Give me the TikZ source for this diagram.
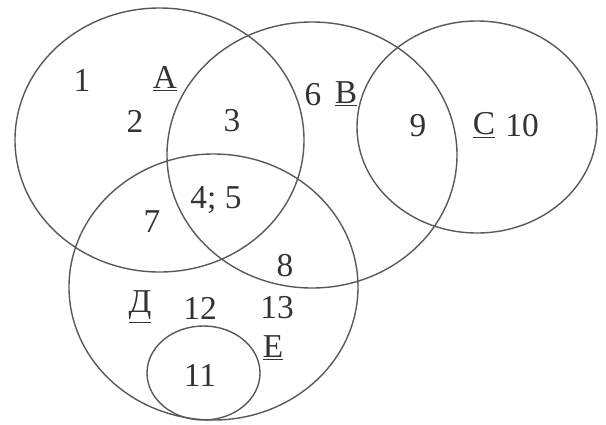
\documentclass[tikz,border=0pt]{standalone}
\usepackage{fontspec}
\setmainfont{Liberation Serif}
\begin{document}
\begin{tikzpicture}[x=0.02cm,y=-0.02cm,line join=round,line cap=round,font=\fontsize{19}{21}\selectfont]
	\tikzset{every node/.style={text=black!80,inner sep=0pt},
		set/.style={draw=black!65,line width=0.8pt}}
	\useasboundingbox (0,0) rectangle (606,424);
	\draw[set] (159.5,140) ellipse (144.5 and 132);
	\draw[set] (312,155) ellipse (145 and 133);
	\draw[set] (477,127) ellipse (120 and 106);
	\draw[set] (213.5,287) ellipse (144.5 and 133);
	\draw[set] (203.5,373) ellipse (56.5 and 47);
	\node (n1) at (82,80) {1};
	\node (setA) at (165,79) {\underline{А}};
	\node (n2) at (135,121) {2};
	\node (n3) at (232,121) {3};
	\node (n45) at (216,200) {4; 5};
	\node (n6) at (313,95) {6};
	\node (setB) at (346,94) {\underline{В}};
	\node (n9) at (418,126) {9};
	\node (setC) at (484,125) {\underline{С}};
	\node (n10) at (522,126) {10};
	\node (n7) at (152,222) {7};
	\node (n8) at (285,266) {8};
	\node (setD) at (140,307) {\underline{Д}};
	\node (n12) at (200,308) {12};
	\node (n13) at (277,308) {13};
	\node (setE) at (273,348) {\underline{Е}};
	\node (n11) at (200,375) {11};
\end{tikzpicture}
\end{document}
